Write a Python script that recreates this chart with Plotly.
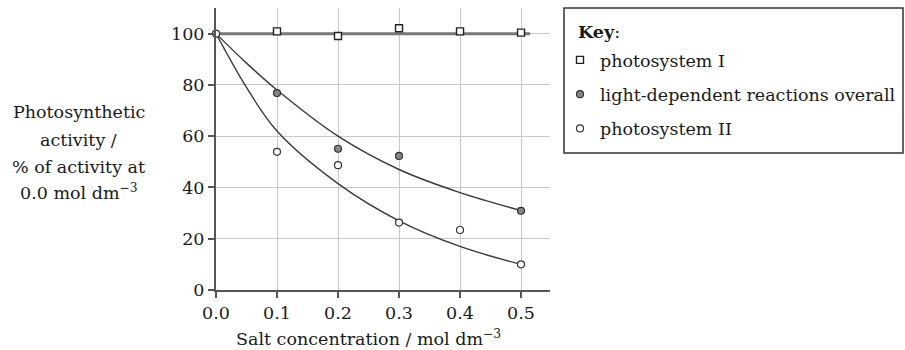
import plotly.graph_objects as go

# ---- data ----
x_ticks = [0.0, 0.1, 0.2, 0.3, 0.4, 0.5]
y_ticks = [0, 20, 40, 60, 80, 100]

ps1_x = [0.1, 0.2, 0.3, 0.4, 0.5]
ps1_y = [100.9, 99.1, 102.1, 100.9, 100.4]

overall_x = [0.1, 0.2, 0.3, 0.5]
overall_y = [76.8, 55.1, 52.3, 30.9]

ps2_x = [0.0, 0.1, 0.2, 0.3, 0.4, 0.5]
ps2_y = [100.0, 53.9, 48.7, 26.3, 23.4, 10.0]

# trend lines as drawn in the figure
ps1_fit_x = [0.0, 0.515]
ps1_fit_y = [100.0, 100.0]
overall_fit_x = [0.0, 0.05, 0.1, 0.2, 0.3, 0.4, 0.5]
overall_fit_y = [100.0, 88.5, 78.0, 60.0, 47.0, 38.0, 31.0]
ps2_fit_x = [0.0, 0.05, 0.1, 0.2, 0.3, 0.4, 0.5]
ps2_fit_y = [100.0, 79.0, 62.0, 41.5, 27.0, 17.0, 10.0]

names = ["photosystem I", "light-dependent reactions overall", "photosystem II"]

FONT = "DejaVu Serif"
TXT = "#1a1a1a"
FS = 17.5

fig = go.Figure()

# trend lines
fig.add_trace(go.Scatter(x=ps1_fit_x, y=ps1_fit_y, mode="lines",
                         line=dict(color="#777777", width=3),
                         showlegend=False, hoverinfo="skip", cliponaxis=False))
fig.add_trace(go.Scatter(x=overall_fit_x, y=overall_fit_y, mode="lines",
                         line=dict(color="#3a3a3a", width=1.4, shape="spline"),
                         showlegend=False, hoverinfo="skip", cliponaxis=False))
fig.add_trace(go.Scatter(x=ps2_fit_x, y=ps2_fit_y, mode="lines",
                         line=dict(color="#3a3a3a", width=1.4, shape="spline"),
                         showlegend=False, hoverinfo="skip", cliponaxis=False))

# data points
fig.add_trace(go.Scatter(x=ps1_x, y=ps1_y, mode="markers", name=names[0],
                         legendgroup="g1",
                         marker=dict(symbol="square", size=7, color="white",
                                     line=dict(color="#222222", width=1.4)),
                         cliponaxis=False))
fig.add_trace(go.Scatter(x=overall_x, y=overall_y, mode="markers", name=names[1],
                         legendgroup="g2",
                         marker=dict(symbol="circle", size=7, color="#858585",
                                     line=dict(color="#333333", width=1.2)),
                         cliponaxis=False))
fig.add_trace(go.Scatter(x=ps2_x, y=ps2_y, mode="markers", name=names[2],
                         legendgroup="g3",
                         marker=dict(symbol="circle", size=7, color="white",
                                     line=dict(color="#333333", width=1.2)),
                         cliponaxis=False))

W, H = 905, 350
L, R, T, B = 216, 355, 8, 60
pw, ph = W - L - R, H - T - B


def px_to_paper(px, py):
    return (px - L) / pw, (H - B - py) / ph


leg_x, leg_y = px_to_paper(560, 42)

fig.update_layout(
    width=W, height=H,
    margin=dict(l=L, r=R, t=T, b=B, autoexpand=False),
    paper_bgcolor="white", plot_bgcolor="white",
    font=dict(family=FONT, size=FS, color=TXT),
    showlegend=True,
    legend=dict(
        x=leg_x, y=leg_y, xanchor="left", yanchor="top",
        borderwidth=0, bgcolor="rgba(0,0,0,0)", tracegroupgap=8.5,
        font=dict(family=FONT, size=FS, color=TXT),
    ),
    xaxis=dict(
        range=[0, 0.5475], tickvals=x_ticks, tickformat=".1f",
        showgrid=True, gridcolor="#c8c8c8", gridwidth=1,
        zeroline=False, showline=True, linecolor="#555555", linewidth=2,
        ticks="outside", ticklen=6, tickwidth=1.5, tickcolor="#555555",
        tickfont=dict(family=FONT, size=FS, color=TXT),
    ),
    yaxis=dict(
        range=[0, 110], tickvals=y_ticks,
        showgrid=True, gridcolor="#c8c8c8", gridwidth=1,
        zeroline=False, showline=True, linecolor="#555555", linewidth=2,
        ticks="outside", ticklen=6, tickwidth=1.5, tickcolor="#555555",
        tickfont=dict(family=FONT, size=FS, color=TXT),
    ),
)

# key box
bx0, by0 = px_to_paper(564, 153)
bx1, by1 = px_to_paper(903, 8)
fig.add_shape(type="rect", xref="paper", yref="paper",
              x0=bx0, y0=by0, x1=bx1, y1=by1,
              line=dict(color="#333333", width=1.5), fillcolor="rgba(0,0,0,0)")
kx, ky = px_to_paper(576, 32)
fig.add_annotation(x=kx, y=ky, xref="paper", yref="paper",
                   text="<b>Key</b>:", showarrow=False,
                   xanchor="left", yanchor="middle",
                   font=dict(family=FONT, size=FS, color=TXT))

# x-axis title (centred under 0.0–0.5)
xt_x, xt_y = px_to_paper(368, 338)
fig.add_annotation(x=0.25, xref="x", y=xt_y, yref="paper",
                   text="Salt concentration / mol dm<sup>−3</sup>",
                   showarrow=False, xanchor="center", yanchor="middle",
                   font=dict(family=FONT, size=FS, color=TXT))

# y-axis title lines
y_title_lines = ["Photosynthetic", "activity /", "% of activity at",
                 "0.0 mol dm<sup>−3</sup>"]
y_title_py = [112, 140, 167, 192]
for line, py in zip(y_title_lines, y_title_py):
    ax_, ay_ = px_to_paper(78.5, py)
    fig.add_annotation(x=ax_, y=ay_, xref="paper", yref="paper", text=line,
                       showarrow=False, xanchor="center", yanchor="middle",
                       font=dict(family=FONT, size=FS, color=TXT))

fig.write_html("out.html")
